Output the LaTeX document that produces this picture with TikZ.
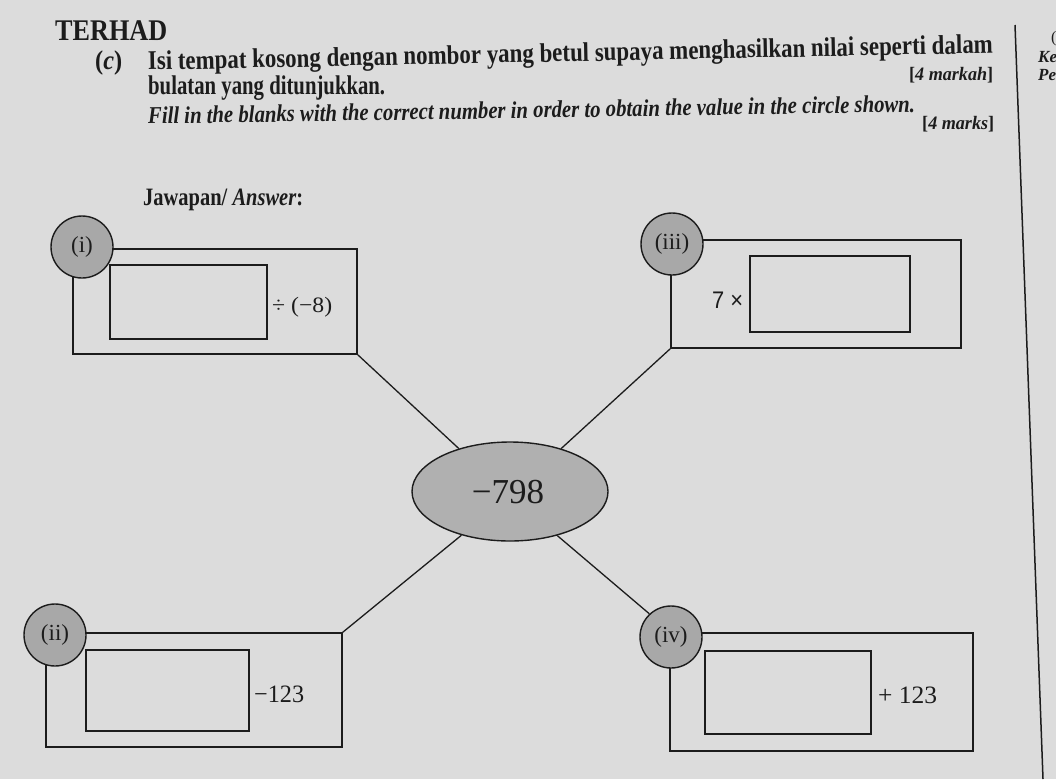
\documentclass[tikz,border=0pt]{standalone}
\usepackage{graphicx}
\usepackage{fontspec}
\setmainfont{Liberation Serif}
\newfontfamily\sansf{Liberation Sans}
\usetikzlibrary{shapes.geometric}
\definecolor{paper}{HTML}{DCDCDC}
\definecolor{disk}{HTML}{A8A8A8}
\definecolor{oval}{HTML}{B0B0B0}
\definecolor{ink}{HTML}{1C1C1C}
\newcommand{\fitw}[2]{\resizebox{#1}{\height}{#2}}
\newcommand{\fs}[1]{\fontsize{#1}{#1}\selectfont}
\begin{document}
\begin{tikzpicture}[x=1pt,y=-1pt,
  txt/.style={inner sep=0pt, anchor=base west, text=ink},
  outerbox/.style={draw=ink, line width=1.5pt, inner sep=0pt},
  innerbox/.style={draw=ink, line width=1.5pt, fill=paper, inner sep=0pt},
  labeldisk/.style={circle, draw=ink, line width=1.4pt, fill=disk, minimum size=62pt, inner sep=0pt, text=ink, font=\fs{23}},
  conn/.style={draw=ink, line width=1.3pt}]
\useasboundingbox (0,0) rectangle (1056,779);
\fill[paper] (0,0) rectangle (1056,779);

% margin line
\coordinate (mtop) at (1015,25);
\coordinate (mbot) at (1043,779);
\draw[ink, line width=1.5pt] (mtop) -- (mbot);

% header texts
\node[txt, font=\bfseries\fs{30}] (terhad) at (55,40) {\fitw{112pt}{TERHAD}};
\node[txt, font=\bfseries\fs{27}] (partc) at (95,69) {\fitw{27pt}{(\textit{c})}};
\node[txt, font=\bfseries\fs{27}, rotate=1.15] (line1) at (148,70) {\fitw{845pt}{Isi tempat kosong dengan nombor yang betul supaya menghasilkan nilai seperti dalam}};
\node[txt, font=\bfseries\fs{19}] (markah) at (909,80) {\fitw{84pt}{[\textit{4 markah}]}};
\node[txt, font=\bfseries\fs{27}] (line2) at (148,94) {\fitw{237pt}{bulatan yang ditunjukkan.}};
\node[txt, font=\bfseries\itshape\fs{24}, rotate=0.9] (line3) at (148,124) {\fitw{767pt}{Fill in the blanks with the correct number in order to obtain the value in the circle shown.}};
\node[txt, font=\bfseries\fs{19}] (marks) at (922,129) {\fitw{72pt}{[\textit{4 marks}]}};
\node[txt, font=\bfseries\fs{25}] (jaw) at (143,205) {\fitw{160pt}{Jawapan/ \textit{Answer}:}};
\node[txt, font=\bfseries\itshape\fs{17}] (ke) at (1038,62) {Ke};
\node[txt, font=\bfseries\itshape\fs{17}] (pe) at (1038,80) {Pe};
\node[txt, font=\fs{16}] (paren) at (1051,42) {(};

% box (i)
\node[outerbox, minimum width=284pt, minimum height=105pt] (oI) at (215,301.5) {};
\node[innerbox, minimum width=157pt, minimum height=74pt] (iI) at (188.5,302) {};
\node[txt, font=\fs{22}] (tI) at (272,312) {\fitw{60pt}{÷ (−8)}};
\node[labeldisk] (cI) at (82,247) {(i)};

% box (iii)
\node[outerbox, minimum width=290pt, minimum height=108pt] (oIII) at (816,294) {};
\node[innerbox, minimum width=160pt, minimum height=76pt] (iIII) at (830,294) {};
\node[txt, font=\sansf\fs{24}] (tIII) at (712,308) {\fitw{31pt}{7 ×}};
\node[labeldisk] (cIII) at (672,244) {(iii)};

% box (ii)
\node[outerbox, minimum width=296pt, minimum height=114pt] (oII) at (194,690) {};
\node[innerbox, minimum width=163pt, minimum height=81pt] (iII) at (167.5,690.5) {};
\node[txt, font=\fs{25}] (tII) at (254,702) {\fitw{50pt}{−123}};
\node[labeldisk] (cII) at (55,635) {(ii)};

% box (iv)
\node[outerbox, minimum width=303pt, minimum height=118pt] (oIV) at (821.5,692) {};
\node[innerbox, minimum width=166pt, minimum height=83pt] (iIV) at (788,692.5) {};
\node[txt, font=\fs{25}] (tIV) at (878,703) {\fitw{59pt}{+ 123}};
\node[labeldisk] (cIV) at (671,637) {(iv)};

% centre ellipse
\node[ellipse, draw=ink, line width=1.4pt, fill=oval, minimum width=196pt, minimum height=99pt, inner sep=0pt] (ell) at (510,491.5) {};
\node[txt, anchor=base, font=\fs{35}] (val) at (508,503) {−798};

% connectors
\draw[conn] (oI.south east) -- (ell.140);
\draw[conn] (oIII.south west) -- (ell.40);
\draw[conn] (ell.222) -- (oII.north east);
\draw[conn] (ell.317) -- (cIV.133);
\end{tikzpicture}
\end{document}
